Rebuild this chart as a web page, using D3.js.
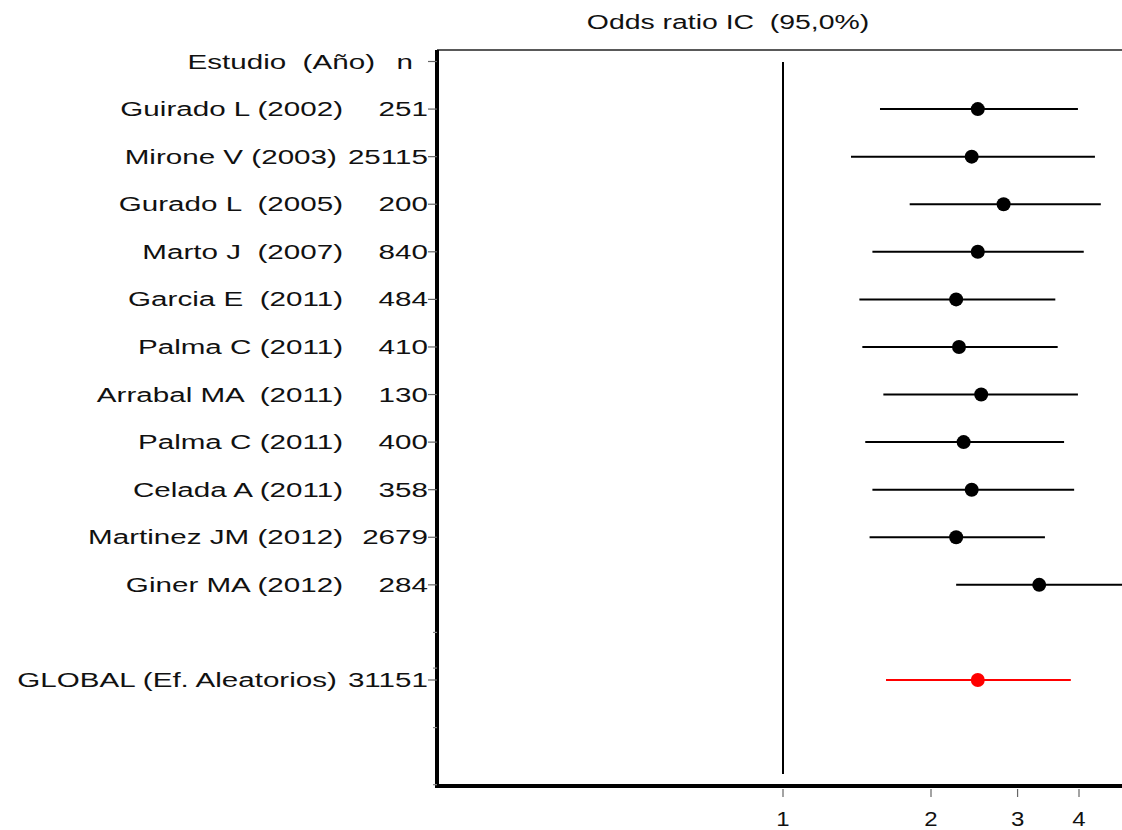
<!DOCTYPE html>
<html><head><meta charset="utf-8">
<script src="https://cdn.jsdelivr.net/npm/d3@7"></script>
<style>body{margin:0;background:#fff}text{font-family:"Liberation Sans",Arial,sans-serif;fill:#111;white-space:pre}</style>
</head><body>
<svg id="c" width="1122" height="830"></svg>
<script>
const studies = ['Guirado L (2002)','Mirone V (2003)','Gurado L  (2005)','Marto J  (2007)','Garcia E  (2011)','Palma C (2011)','Arrabal MA  (2011)','Palma C (2011)','Celada A (2011)','Martinez JM (2012)','Giner MA (2012)'];
const nValues = ['251','25115','200','840','484','410','130','400','358','2679','284'];
const orValues = [2.49,2.42,2.81,2.49,2.25,2.28,2.53,2.33,2.42,2.25,3.32];
const loValues = [1.575,1.375,1.81,1.52,1.43,1.45,1.60,1.47,1.52,1.50,2.25];
const hiValues = [3.98,4.31,4.43,4.09,3.58,3.62,3.98,3.73,3.91,3.41,5.2];
const globalRow = {name:'GLOBAL (Ef. Aleatorios)', n:'31151', or:2.49, lo:1.62, hi:3.85};
const xTicks = [1,2,3,4];

const svg = d3.select('#c');
const x = d3.scaleLog().domain([1,4]).range([783,1079]);
const y = d3.scaleLinear().domain([0,13]).range([61.5,680]);
const boxL = 437, boxT = 50, boxB = 786;
const SX = 1.41;

function label(tx, ty, str, anchor, size, sx) {
  return svg.append('text')
    .attr('transform', `translate(${tx},${ty}) scale(${sx || SX},1)`)
    .attr('text-anchor', anchor).attr('font-size', size || 21).text(str);
}

label(728, 29, 'Odds ratio IC  (95,0%)', 'middle', 20, 1.42);

// box
svg.append('line').attr('x1',boxL).attr('x2',1122).attr('y1',boxT).attr('y2',boxT).attr('stroke','#222').attr('stroke-width',1.5);
svg.append('line').attr('x1',boxL).attr('x2',boxL).attr('y1',boxT).attr('y2',boxB+2).attr('stroke','#000').attr('stroke-width',4);
svg.append('line').attr('x1',boxL-2).attr('x2',1122).attr('y1',boxB).attr('y2',boxB).attr('stroke','#000').attr('stroke-width',4);

// reference line
svg.append('line').attr('x1',x(1)).attr('x2',x(1)).attr('y1',62).attr('y2',774).attr('stroke','#000').attr('stroke-width',2);

// x axis ticks
xTicks.forEach(t=>{
  svg.append('line').attr('x1',x(t)).attr('x2',x(t)).attr('y1',boxB+3).attr('y2',boxB+11).attr('stroke','#666').attr('stroke-width',1.2);
  label(x(t), 826, t, 'middle', 20, 1.2);
});

// left ticks
d3.range(0,12).concat([13]).forEach(i=>{
  svg.append('line').attr('x1',boxL-9).attr('x2',boxL).attr('y1',y(i)).attr('y2',y(i)).attr('stroke','#666').attr('stroke-width',1.2);
});
[12,12.75,14,15.2].forEach(i=>{
  svg.append('line').attr('x1',boxL-4).attr('x2',boxL).attr('y1',y(i)).attr('y2',y(i)).attr('stroke','#888').attr('stroke-width',1.2);
});

// header
label(375, y(0)+7, 'Estudio  (Año)', 'end');
label(413, y(0)+7, 'n', 'end');

const rows = studies.map((s,i)=>({name:s,n:nValues[i],or:orValues[i],lo:loValues[i],hi:hiValues[i],idx:i+1,col:'#000'}));
rows.push({...globalRow, idx:13, col:'#f00'});

rows.forEach(r=>{
  const yy = y(r.idx);
  const nt = label(428, yy+7, r.n, 'end');
  const nStart = 428 - nt.node().getComputedTextLength() * SX;
  label(Math.min(343, nStart - 11), yy+7, r.name, 'end');
  svg.append('line').attr('x1',x(r.lo)).attr('x2',Math.min(x(r.hi),1122)).attr('y1',yy).attr('y2',yy).attr('stroke',r.col).attr('stroke-width',2);
  svg.append('circle').attr('cx',x(r.or)).attr('cy',yy).attr('r',7).attr('fill',r.col);
});
</script>
</body></html>
